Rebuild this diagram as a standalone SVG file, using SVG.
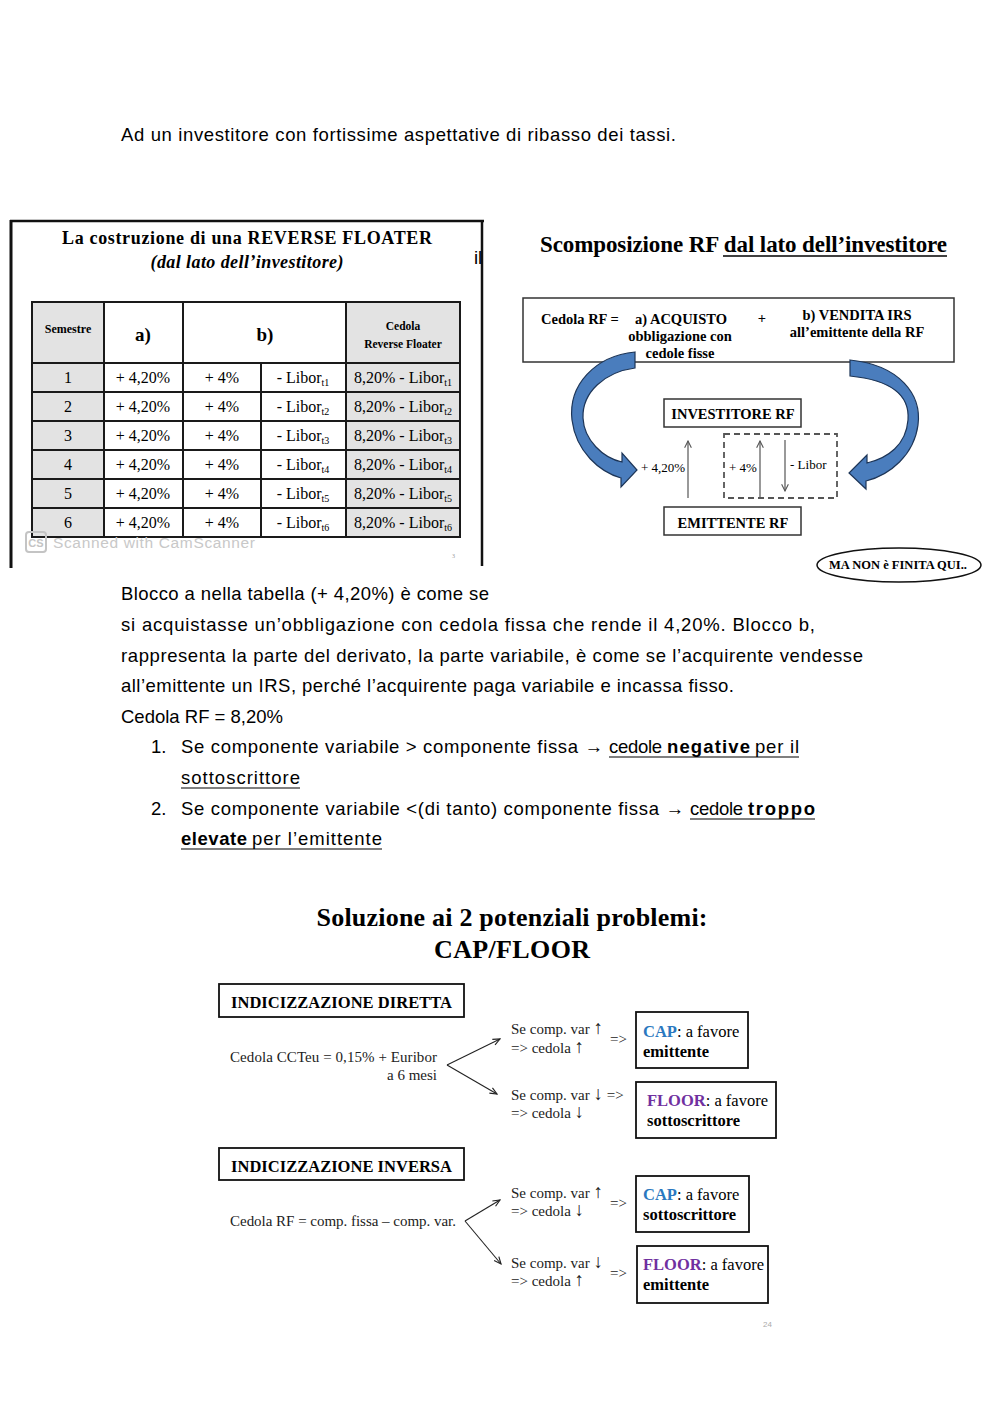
<svg xmlns="http://www.w3.org/2000/svg" width="1000" height="1413" viewBox="0 0 1000 1413">
<defs>
<style>
.sans{font-family:"Liberation Sans",Arial,sans-serif;font-size:18.5px;fill:#000}
.ser{font-family:"Liberation Serif","Times New Roman",serif;fill:#000}
.b{font-weight:bold}
.tl{stroke:#1a1a1a;stroke-width:2;fill:none}
.cell{font-family:"Liberation Serif","Times New Roman",serif;font-size:16px;text-anchor:middle;fill:#000}
.hd{font-family:"Liberation Serif","Times New Roman",serif;font-weight:bold;text-anchor:middle;fill:#000}
.box{fill:#fff;stroke:#333;stroke-width:1.5}
.box2{fill:#fff;stroke:#111;stroke-width:1.8}
.ul{stroke:#000;stroke-width:1.2}
.thin{stroke:#555;stroke-width:1.2;fill:none}
.blk{stroke:#222;stroke-width:1.1;fill:none}
.blue{fill:#4a7dbd;stroke:#1d3557;stroke-width:1.2}
.bt{font-family:"Liberation Serif","Times New Roman",serif;font-size:15px;fill:#222}
.bx{font-family:"Liberation Serif","Times New Roman",serif;font-size:16.5px;fill:#000}
</style>
<marker id="ah" viewBox="0 0 10 10" refX="9" refY="5" markerWidth="7" markerHeight="7" orient="auto-start-reverse"><path d="M1,1 L9,5 L1,9" fill="none" stroke="#555" stroke-width="1.3"/></marker>
<marker id="ah2" viewBox="0 0 10 10" refX="9" refY="5" markerWidth="8" markerHeight="8" orient="auto"><path d="M1,1.5 L9,5 L1,8.5" fill="none" stroke="#222" stroke-width="1.3"/></marker>
</defs>
<rect width="1000" height="1413" fill="#fff"/>

<!-- top text -->
<text class="sans" x="121" y="141" textLength="555">Ad un investitore con fortissime aspettative di ribasso dei tassi.</text>

<!-- scanned table -->
<g id="table-scan">
<line x1="10" y1="221" x2="484" y2="221" stroke="#111" stroke-width="2.5"/>
<line x1="11" y1="220" x2="11" y2="568" stroke="#111" stroke-width="3"/>
<line x1="482" y1="220" x2="482" y2="566" stroke="#111" stroke-width="2.5"/>
<text class="ser b" x="247" y="244" font-size="18" text-anchor="middle" textLength="370">La costruzione di una REVERSE FLOATER</text>
<text class="ser b" x="247" y="268" font-size="18" font-style="italic" text-anchor="middle" textLength="193">(dal lato dell’investitore)</text>
<rect x="32" y="302" width="72" height="235" fill="#e3e3e3"/>
<rect x="346" y="302" width="114" height="235" fill="#e3e3e3"/>
<rect x="32" y="302" width="428" height="235" class="tl"/>
<line class="tl" x1="104" y1="302" x2="104" y2="537"/>
<line class="tl" x1="183" y1="302" x2="183" y2="537"/>
<line class="tl" x1="261" y1="363" x2="261" y2="537"/>
<line class="tl" x1="346" y1="302" x2="346" y2="537"/>
<line class="tl" x1="32" y1="363" x2="460" y2="363"/>
<line class="tl" x1="32" y1="392" x2="460" y2="392"/>
<line class="tl" x1="32" y1="421" x2="460" y2="421"/>
<line class="tl" x1="32" y1="450" x2="460" y2="450"/>
<line class="tl" x1="32" y1="479" x2="460" y2="479"/>
<line class="tl" x1="32" y1="508" x2="460" y2="508"/>
<text class="hd" x="68" y="333" font-size="12">Semestre</text>
<text class="hd" x="143" y="341" font-size="19">a)</text>
<text class="hd" x="265" y="341" font-size="19">b)</text>
<text class="hd" x="403" y="330" font-size="11.5">Cedola</text>
<text class="hd" x="403" y="348" font-size="11.5">Reverse Floater</text>

<text class="cell" x="68" y="383">1</text><text class="cell" x="143" y="383">+ 4,20%</text><text class="cell" x="222" y="383">+ 4%</text>
<text class="cell" x="303" y="383">- Libor<tspan font-size="10" dy="3">t1</tspan></text><text class="cell" x="403" y="383">8,20% - Libor<tspan font-size="10" dy="3">t1</tspan></text>
<text class="cell" x="68" y="412">2</text><text class="cell" x="143" y="412">+ 4,20%</text><text class="cell" x="222" y="412">+ 4%</text>
<text class="cell" x="303" y="412">- Libor<tspan font-size="10" dy="3">t2</tspan></text><text class="cell" x="403" y="412">8,20% - Libor<tspan font-size="10" dy="3">t2</tspan></text>
<text class="cell" x="68" y="441">3</text><text class="cell" x="143" y="441">+ 4,20%</text><text class="cell" x="222" y="441">+ 4%</text>
<text class="cell" x="303" y="441">- Libor<tspan font-size="10" dy="3">t3</tspan></text><text class="cell" x="403" y="441">8,20% - Libor<tspan font-size="10" dy="3">t3</tspan></text>
<text class="cell" x="68" y="470">4</text><text class="cell" x="143" y="470">+ 4,20%</text><text class="cell" x="222" y="470">+ 4%</text>
<text class="cell" x="303" y="470">- Libor<tspan font-size="10" dy="3">t4</tspan></text><text class="cell" x="403" y="470">8,20% - Libor<tspan font-size="10" dy="3">t4</tspan></text>
<text class="cell" x="68" y="499">5</text><text class="cell" x="143" y="499">+ 4,20%</text><text class="cell" x="222" y="499">+ 4%</text>
<text class="cell" x="303" y="499">- Libor<tspan font-size="10" dy="3">t5</tspan></text><text class="cell" x="403" y="499">8,20% - Libor<tspan font-size="10" dy="3">t5</tspan></text>
<text class="cell" x="68" y="528">6</text><text class="cell" x="143" y="528">+ 4,20%</text><text class="cell" x="222" y="528">+ 4%</text>
<text class="cell" x="303" y="528">- Libor<tspan font-size="10" dy="3">t6</tspan></text><text class="cell" x="403" y="528">8,20% - Libor<tspan font-size="10" dy="3">t6</tspan></text>

<rect x="26" y="532" width="20" height="20" rx="3" fill="none" stroke="#c4c4c4" stroke-width="2"/>
<text x="36" y="547" font-family="Liberation Sans,Arial,sans-serif" font-size="11" font-weight="bold" fill="#c4c4c4" text-anchor="middle">CS</text>
<text x="53" y="548" font-family="Liberation Sans,Arial,sans-serif" font-size="15.5" fill="#c8c8c8" textLength="202">Scanned with CamScanner</text>
<text x="452" y="558" font-family="Liberation Serif,serif" font-size="6" fill="#999">3</text>
</g>
<text class="sans" x="474" y="264">il</text>

<!-- right diagram -->
<g id="rf-title">
<text class="ser b" x="540" y="252" font-size="23" textLength="407">Scomposizione RF dal lato dell’investitore</text>
<line x1="723" y1="256" x2="947" y2="256" stroke="#000" stroke-width="1.5"/>
</g>
<g id="box-cedola">
<rect class="box" x="523" y="298" width="431" height="64"/>
<text class="ser b" x="541" y="324" font-size="14.5">Cedola RF =</text>
<text class="ser b" x="635" y="324" font-size="14.5">a) ACQUISTO</text>
<text class="ser b" x="680" y="341" font-size="14.5" text-anchor="middle">obbligazione con</text>
<text class="ser b" x="680" y="358" font-size="14.5" text-anchor="middle">cedole fisse</text>
<text class="ser b" x="762" y="323" font-size="14.5" text-anchor="middle">+</text>
<text class="ser b" x="857" y="320" font-size="14.5" text-anchor="middle">b) VENDITA IRS</text>
<text class="ser b" x="857" y="337" font-size="14.5" text-anchor="middle">all’emittente della RF</text>
</g>
<g id="curved-arrows">
<path class="blue" d="M635,352 C595,356 568,385 572,420 C576,452 600,472 621,478 L621,487 L637,470 L622,453 L622,462 C603,458 584,440 583,418 C582,392 605,372 635,368 Z"/>
<path class="blue" d="M850,360 C900,365 922,395 918,425 C914,455 890,475 866,481 L866,489 L849,473 L867,455 L867,463 C888,458 906,445 908,420 C910,395 890,380 850,376 Z"/>
</g>
<g id="investitore">
<rect class="box" x="664" y="399" width="137" height="28"/>
<text class="ser b" x="733" y="419" font-size="14.5" text-anchor="middle">INVESTITORE RF</text>
</g>
<g id="emittente">
<rect class="box" x="664" y="507" width="137" height="28"/>
<text class="ser b" x="733" y="528" font-size="14.5" text-anchor="middle">EMITTENTE RF</text>
</g>
<g id="irs-box">
<rect x="724" y="434" width="113" height="64" fill="none" stroke="#555" stroke-width="1.8" stroke-dasharray="6,4"/>
</g>
<g id="flows">
<line class="thin" x1="688" y1="498" x2="688" y2="441" marker-end="url(#ah)"/>
<line class="thin" x1="760" y1="497" x2="760" y2="441" marker-end="url(#ah)"/>
<line class="thin" x1="785" y1="440" x2="785" y2="491" marker-end="url(#ah)"/>
<text class="ser" x="641" y="472" font-size="13" fill="#333">+ 4,20%</text>
<text class="ser" x="729" y="472" font-size="13" fill="#333">+ 4%</text>
<text class="ser" x="790" y="469" font-size="13" fill="#333">- Libor</text>
</g>
<g id="ma-non">
<ellipse cx="899" cy="565" rx="82" ry="17" fill="#fff" stroke="#111" stroke-width="1.5"/>
<text class="ser b" x="898" y="569" font-size="12.5" text-anchor="middle">MA NON è FINITA QUI..</text>
</g>

<!-- body text -->
<g id="body">
<text class="sans" x="121" y="600" textLength="368">Blocco a nella tabella (+ 4,20%) è come se</text>
<text class="sans" x="121" y="631" textLength="694">si acquistasse un’obbligazione con cedola fissa che rende il 4,20%. Blocco b,</text>
<text class="sans" x="121" y="662" textLength="742">rappresenta la parte del derivato, la parte variabile, è come se l’acquirente vendesse</text>
<text class="sans" x="121" y="692" textLength="613">all’emittente un IRS, perché l’acquirente paga variabile e incassa fisso.</text>
<text class="sans" x="121" y="723" textLength="162">Cedola RF = 8,20%</text>
<text class="sans" x="151" y="753">1.</text>
<text class="sans" x="181" y="753" textLength="422">Se componente variabile &gt; componente fissa →</text>
<text class="sans" x="609" y="753" textLength="53">cedole</text>
<text class="sans" x="667" y="753" font-weight="bold" textLength="83">negative</text>
<text class="sans" x="755" y="753" textLength="44">per il</text>
<line class="ul" x1="609" y1="757" x2="799" y2="757"/>
<text class="sans" x="181" y="784" textLength="119">sottoscrittore</text>
<line class="ul" x1="181" y1="788" x2="300" y2="788"/>
<text class="sans" x="151" y="815">2.</text>
<text class="sans" x="181" y="815" textLength="503">Se componente variabile &lt;(di tanto) componente fissa →</text>
<text class="sans" x="690" y="815" textLength="53">cedole</text>
<text class="sans" x="748" y="815" font-weight="bold" textLength="67">troppo</text>
<line class="ul" x1="690" y1="819" x2="815" y2="819"/>
<text class="sans" x="181" y="845" font-weight="bold" textLength="66">elevate</text>
<text class="sans" x="252" y="845" textLength="130">per l’emittente</text>
<line class="ul" x1="181" y1="849" x2="382" y2="849"/>
</g>

<!-- bottom diagram -->
<g id="sol-title">
<text class="ser b" x="512" y="926" font-size="26" text-anchor="middle" textLength="391">Soluzione ai 2 potenziali problemi:</text>
<text class="ser b" x="512" y="958" font-size="26" text-anchor="middle" textLength="156">CAP/FLOOR</text>
</g>
<g id="ind-diretta">
<rect class="box2" x="219" y="984" width="245" height="33"/>
<text class="ser b" x="231" y="1008" font-size="16.5" textLength="221">INDICIZZAZIONE DIRETTA</text>
</g>
<g id="cedola-ccteu">
<text class="bt" x="230" y="1062" textLength="207">Cedola CCTeu = 0,15% + Euribor</text>
<text class="bt" x="437" y="1080" text-anchor="end">a 6 mesi</text>
</g>
<g id="cond-d1">
<text class="bt" x="511" y="1034">Se comp. var <tspan font-size="19">↑</tspan></text>
<text class="bt" x="511" y="1053">=&gt; cedola <tspan font-size="19">↑</tspan></text>
<text class="bt" x="610" y="1044">=&gt;</text>
</g>
<g id="cap-d">
<rect class="box2" x="636" y="1012" width="112" height="56"/>
<text class="bx" x="643" y="1037"><tspan font-weight="bold" fill="#2b78c0">CAP</tspan>: a favore</text>
<text class="bx b" x="643" y="1057">emittente</text>
</g>
<g id="cond-d2">
<text class="bt" x="511" y="1100">Se comp. var <tspan font-size="19">↓</tspan> =&gt;</text>
<text class="bt" x="511" y="1118">=&gt; cedola <tspan font-size="19">↓</tspan></text>
</g>
<g id="floor-d">
<rect class="box2" x="636" y="1082" width="140" height="56"/>
<text class="bx" x="647" y="1106"><tspan font-weight="bold" fill="#7030a0">FLOOR</tspan>: a favore</text>
<text class="bx b" x="647" y="1126">sottoscrittore</text>
</g>
<g id="ind-inversa">
<rect class="box2" x="219" y="1148" width="245" height="32"/>
<text class="ser b" x="231" y="1172" font-size="16.5" textLength="221">INDICIZZAZIONE INVERSA</text>
</g>
<g id="cedola-rf">
<text class="bt" x="230" y="1226" textLength="226">Cedola RF = comp. fissa – comp. var.</text>
</g>
<g id="cond-i1">
<text class="bt" x="511" y="1198">Se comp. var <tspan font-size="19">↑</tspan></text>
<text class="bt" x="511" y="1216">=&gt; cedola <tspan font-size="19">↓</tspan></text>
<text class="bt" x="610" y="1208">=&gt;</text>
</g>
<g id="cap-i">
<rect class="box2" x="636" y="1176" width="113" height="56"/>
<text class="bx" x="643" y="1200"><tspan font-weight="bold" fill="#2b78c0">CAP</tspan>: a favore</text>
<text class="bx b" x="643" y="1220">sottoscrittore</text>
</g>
<g id="cond-i2">
<text class="bt" x="511" y="1268">Se comp. var <tspan font-size="19">↓</tspan></text>
<text class="bt" x="511" y="1286">=&gt; cedola <tspan font-size="19">↑</tspan></text>
<text class="bt" x="610" y="1278">=&gt;</text>
</g>
<g id="floor-i">
<rect class="box2" x="637" y="1246" width="131" height="57"/>
<text class="bx" x="643" y="1270"><tspan font-weight="bold" fill="#7030a0">FLOOR</tspan>: a favore</text>
<text class="bx b" x="643" y="1290">emittente</text>
</g>
<g id="connectors">
<line class="blk" x1="447" y1="1065" x2="500" y2="1039" marker-end="url(#ah2)"/>
<line class="blk" x1="447" y1="1065" x2="497" y2="1094" marker-end="url(#ah2)"/>
<line class="blk" x1="465" y1="1221" x2="500" y2="1200" marker-end="url(#ah2)"/>
<line class="blk" x1="465" y1="1221" x2="501" y2="1264" marker-end="url(#ah2)"/>
</g>
<text x="763" y="1327" font-family="Liberation Sans,Arial,sans-serif" font-size="8" fill="#aaa">24</text>
</svg>
